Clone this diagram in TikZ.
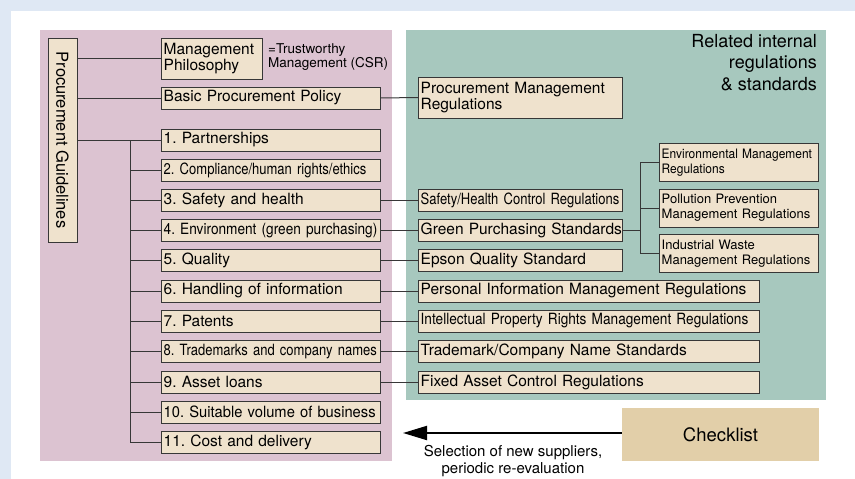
\documentclass[tikz,border=0pt]{standalone}
\usepackage{fontspec}
\setmainfont{TeX Gyre Heros}
\newfontfamily\condfont{TeX Gyre Heros}[FakeStretch=0.84]
\newfontfamily\midfont{TeX Gyre Heros}[FakeStretch=0.88]
\newfontfamily\semifont{TeX Gyre Heros}[FakeStretch=0.92]
\newfontfamily\lightfont{TeX Gyre Heros}[FakeStretch=0.95]
\usetikzlibrary{arrows.meta,positioning}
\definecolor{pageblue}{RGB}{223,232,244}
\definecolor{guidepink}{RGB}{220,195,209}
\definecolor{regteal}{RGB}{167,200,190}
\definecolor{boxfill}{RGB}{239,226,205}
\definecolor{checkfill}{RGB}{226,207,169}
\definecolor{linegray}{RGB}{55,55,55}
\newcommand{\itemfont}{\fontsize{15.5}{16}\selectfont}
\newcommand{\smallfont}{\fontsize{13}{15}\selectfont}
\frenchspacing

\begin{document}
\begin{tikzpicture}[
  x=1pt,y=-1pt,
  gbox/.style={draw=linegray,fill=boxfill,anchor=west,inner xsep=2.5pt,inner ysep=0pt,
    text width=214pt,align=left,minimum height=22pt,font=\itemfont},
  rbox/.style={gbox,text width=199pt},
  rboxw/.style={gbox,text width=336pt},
  ebox/.style={gbox,text width=154pt,minimum height=38pt,font=\smallfont},
  conn/.style={draw=linegray,line width=1pt},
]
  % page and panels
  \useasboundingbox (0,0) rectangle (855,479);
  \fill[pageblue] (0,0) rectangle (855,479);
  \fill[white] (11,11) rectangle (855,479);
  \fill[guidepink] (40,30) rectangle (392,461);
  \fill[regteal] (406,30) rectangle (826,400);

  % guidelines column
  \node[draw=linegray,fill=boxfill,rotate=-90,minimum width=204pt,minimum height=29pt,
    inner sep=0pt,font=\fontsize{16.5}{18}\selectfont] (pg) at (62.5,140) {Procurement Guidelines};
  \node[gbox,text width=96pt,minimum height=41pt] (mp) at (161,58.5) {Management\\Philosophy};
  \node[anchor=north west,inner sep=0pt,align=left,font=\fontsize{13.5}{12.5}\selectfont] (csr)
    at (268,43) {=Trustworthy\\Management (CSR)};
  \node[gbox] (bp) at (161,98) {Basic Procurement Policy};
  \node[gbox] (g1)  at (161,140) {1. Partnerships};
  \node[gbox] (g2)  at (161,170.5) {\condfont 2. Compliance/human rights/ethics};
  \node[gbox] (g3)  at (161,200.5) {3. Safety and health};
  \node[gbox] (g4)  at (161,230.5) {\midfont 4. Environment (green purchasing)};
  \node[gbox] (g5)  at (161,260.5) {5. Quality};
  \node[gbox] (g6)  at (161,291) {6. Handling of information};
  \node[gbox] (g7)  at (161,321) {7. Patents};
  \node[gbox] (g8)  at (161,351.5) {\condfont 8. Trademarks and company names};
  \node[gbox] (g9)  at (161,382) {9. Asset loans};
  \node[gbox] (g10) at (161,412) {\lightfont 10. Suitable volume of business};
  \node[gbox] (g11) at (161,442) {11. Cost and delivery};

  % related regulations
  \node[anchor=north east,inner sep=0pt,align=right,font=\fontsize{18}{21.5}\selectfont] (rel)
    at (817,34) {Related internal\\regulations\\\& standards};
  \node[rbox,minimum height=41pt] (pmr) at (418,97.5) {Procurement Management\\Regulations};
  \node[rbox] (sh) at (418,200.5) {\condfont Safety/Health Control Regulations};
  \node[rbox] (gp) at (418,230.5) {\mbox{Green Purchasing Standards}};
  \node[rbox] (eq) at (418,260.5) {Epson Quality Standard};
  \node[rboxw] (pi) at (418,291) {Personal Information Management Regulations};
  \node[rboxw] (ip) at (418,321) {\midfont Intellectual Property Rights Management Regulations};
  \node[rboxw] (tm) at (418,351.5) {Trademark/Company Name Standards};
  \node[rboxw] (fa) at (418,382) {Fixed Asset Control Regulations};
  \node[ebox] (em) at (659,162.5) {\semifont Environmental Management\\Regulations};
  \node[ebox] (pp) at (659,208) {Pollution Prevention\\Management Regulations};
  \node[ebox] (iw) at (659,253.5) {Industrial Waste\\Management Regulations};

  % checklist
  \node[fill=checkfill,minimum width=197pt,minimum height=53pt,inner sep=0pt,
    font=\fontsize{18.5}{20}\selectfont] (chk) at (720.5,434.5) {Checklist};
  \coordinate (tip) at (403,433);
  \draw[line width=2pt,-{Triangle[length=24pt,width=14pt]}] (chk.west |- tip) -- (tip);
  \node[align=center,inner sep=0pt,font=\fontsize{15}{17.5}\selectfont] (sel) at (513,461)
    {Selection of new suppliers,\\periodic re-evaluation};

  % connectors
  \coordinate (trunk) at (130,140);
  \draw[conn] (pg.north |- mp.west) -- (mp.west);
  \draw[conn] (pg.north |- bp.west) -- (bp.west);
  \draw[conn] (pg.north |- g1.west) -- (g1.west);
  \draw[conn] (trunk) |- (g11.west);
  \foreach \i in {2,...,10}
    \draw[conn] (trunk |- g\i.west) -- (g\i.west);
  \draw[conn] (bp.east) -- (pmr.west);
  \foreach \a/\b in {g3/sh,g4/gp,g5/eq,g6/pi,g7/ip,g8/tm,g9/fa}
    \draw[conn] (\a.east) -- (\b.west);
  \coordinate (eb) at (640,230.5);
  \draw[conn] (gp.east) -- (eb);
  \draw[conn] (eb |- em.west) -- (eb |- iw.west);
  \foreach \e in {em,pp,iw}
    \draw[conn] (eb |- \e.west) -- (\e.west);
\end{tikzpicture}
\end{document}
